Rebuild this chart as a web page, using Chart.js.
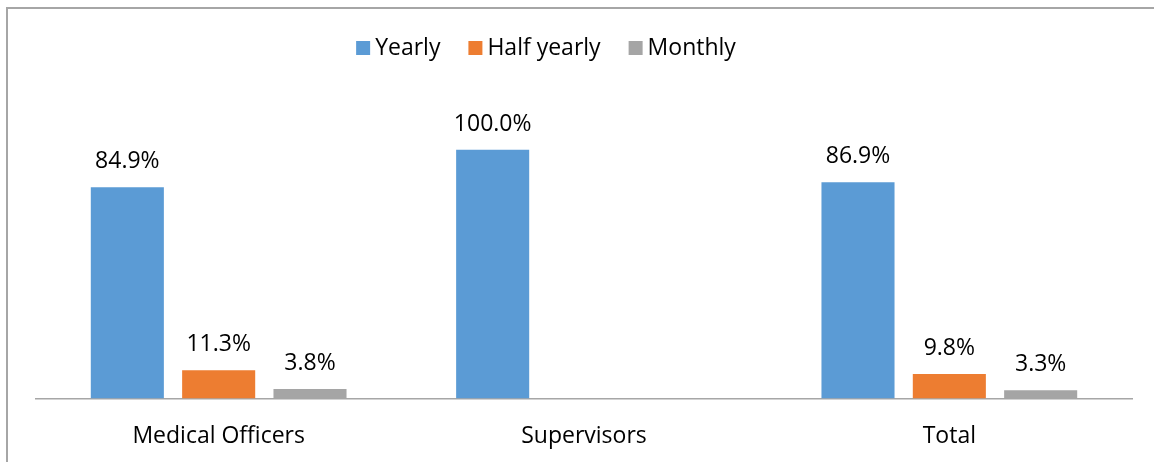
<!DOCTYPE html>
<html lang="en">
<head>
  <meta charset="UTF-8" />
  <title>Frequency of supervision</title>
  <script src="https://cdn.jsdelivr.net/npm/chart.js@4.4.0/dist/chart.umd.min.js"></script>
  <style>
    body {
      margin: 0;
      background-color: #ffffff;
      overflow: hidden;
    }
    .frame {
      position: absolute;
      left: 6px;
      top: 7px;
      width: 1146px;
      height: 453px;
      overflow: hidden;
      border-top: 2px solid #a6a6a6;
      border-left: 2px solid #a6a6a6;
    }
    .frame canvas {
      display: block;
    }
  </style>
</head>
<body>
  <div class="frame">
    <canvas id="chart" width="1146" height="465"></canvas>
  </div>

  <script>
    const categories = ["Medical Officers", "Supervisors", "Total"];
    const seriesNames = ["Yearly", "Half yearly", "Monthly"];
    const yearly = [84.9, 100.0, 86.9];
    const halfYearly = [11.3, null, 9.8];
    const monthly = [3.8, null, 3.3];
    const colors = ["#5b9bd5", "#ed7d31", "#a5a5a5"];

    const fontFamily = "'Open Sans', sans-serif";
    const fontSize = 23;

    // draw the percentage above each bar
    const valueLabels = {
      id: "valueLabels",
      afterDatasetsDraw(chart) {
        const ctx = chart.ctx;
        ctx.save();
        ctx.font = fontSize + "px " + fontFamily;
        ctx.fillStyle = "#000000";
        ctx.textAlign = "center";
        ctx.textBaseline = "alphabetic";
        chart.data.datasets.forEach((ds, i) => {
          const meta = chart.getDatasetMeta(i);
          meta.data.forEach((bar, j) => {
            const v = ds.data[j];
            if (v === null || v === undefined) return;
            ctx.fillText(v.toFixed(1) + "%", bar.x, bar.y - 19);
          });
        });
        ctx.restore();
      }
    };

    // legend drawn by hand so it sits a bit left of centre like the original
    const topLegend = {
      id: "topLegend",
      afterDraw(chart) {
        const ctx = chart.ctx;
        ctx.save();
        ctx.font = fontSize + "px " + fontFamily;
        ctx.textBaseline = "middle";
        ctx.textAlign = "left";
        const box = 14, gap = 5, spacing = 28;
        const widths = chart.data.datasets.map(ds => ctx.measureText(ds.label).width);
        const total = widths.reduce((a, w) => a + box + gap + w, 0) + spacing * (widths.length - 1);
        let x = 538 - total / 2;
        const y = 39;
        chart.data.datasets.forEach((ds, i) => {
          ctx.fillStyle = ds.backgroundColor;
          ctx.fillRect(x, y - box / 2, box, box);
          ctx.fillStyle = "#000000";
          ctx.fillText(ds.label, x + box + gap, y);
          x += box + gap + widths[i] + spacing;
        });
        ctx.restore();
      }
    };

    const ctx = document.getElementById("chart").getContext("2d");
    new Chart(ctx, {
      type: "bar",
      data: {
        labels: categories,
        datasets: [yearly, halfYearly, monthly].map((d, i) => ({
          label: seriesNames[i],
          data: d,
          backgroundColor: colors[i],
          borderWidth: 0,
          barPercentage: 0.80,
          categoryPercentage: 0.75
        }))
      },
      options: {
        responsive: false,
        animation: false,
        layout: {
          padding: { left: 28, right: 22, top: 91, bottom: 0 }
        },
        plugins: {
          legend: { display: false },
          tooltip: { enabled: false }
        },
        scales: {
          x: {
            grid: { display: false, drawTicks: false },
            border: { color: "#a6a6a6", width: 1.5 },
            ticks: {
              color: "#000000",
              padding: 24,
              font: { size: fontSize, family: fontFamily }
            }
          },
          y: {
            display: false,
            min: 0,
            max: 120
          }
        }
      },
      plugins: [valueLabels, topLegend]
    });
  </script>
</body>
</html>
